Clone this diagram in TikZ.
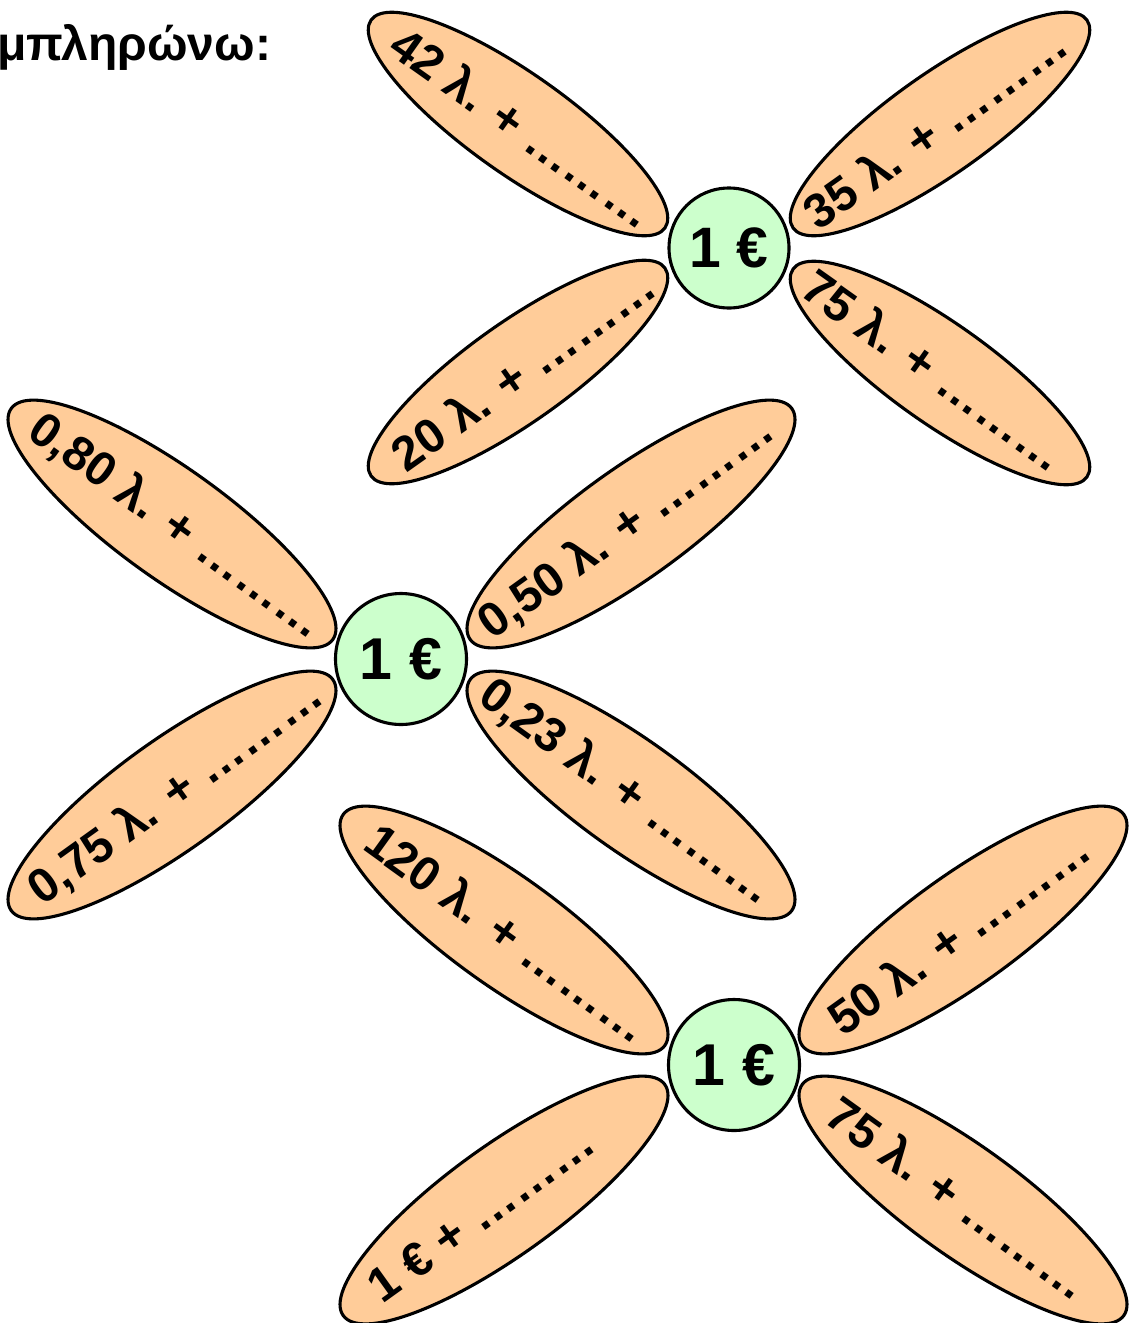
\documentclass[tikz,border=0pt]{standalone}
\usepackage{fontspec}
\setmainfont{Liberation Sans}
\usetikzlibrary{shapes.geometric,calc}
\definecolor{petalfill}{HTML}{FFCC99}
\definecolor{hubfill}{HTML}{CCFFCC}
\tikzset{
  petalA/.style={draw=black, line width=3.1pt, fill=petalfill, ellipse, inner sep=0pt, minimum width=360pt, minimum height=100pt},
  petalB/.style={draw=black, line width=3.1pt, fill=petalfill, ellipse, inner sep=0pt, minimum width=396pt, minimum height=110pt},
  hubA/.style={draw=black, line width=3.1pt, fill=hubfill, circle, inner sep=0pt, minimum size=120pt, font=\bfseries\fontsize{57}{57}\selectfont},
  hubB/.style={draw=black, line width=3.1pt, fill=hubfill, circle, inner sep=0pt, minimum size=131pt, font=\bfseries\fontsize{59}{59}\selectfont},
  ptext/.style={inner sep=0pt, font=\bfseries\fontsize{48}{48}\selectfont},
  title/.style={inner sep=0pt, anchor=base west, font=\bfseries\fontsize{48}{48}\selectfont}
}
\begin{document}
\begin{tikzpicture}[x=1pt, y=-1pt]
\useasboundingbox (0,0) rectangle (1129,1323);
\node[title] (head) at (-3,60) {μπληρώνω:};
% flower 1
\node[petalA, rotate=-35.3] (f1tl) at (518,124) {};
\node[petalA, rotate=35.3] (f1tr) at (940,124) {};
\node[petalA, rotate=35.3] (f1bl) at (518,372) {};
\node[petalA, rotate=-35.3] (f1br) at (940,373) {};
\node[hubA] (h1) at (729,248) {1 €};
\node[ptext, rotate=-35.3] (t1tl) at ($(f1tl.center)!6pt!(h1.center)$) {42 λ. + ………};
\node[ptext, rotate=35.3] (t1tr) at ($(f1tr.center)!6pt!(h1.center)$) {35 λ. + ………};
\node[ptext, rotate=35.3] (t1bl) at ($(f1bl.center)!6pt!(h1.center)$) {20 λ. + ………};
\node[ptext, rotate=-35.3] (t1br) at ($(f1br.center)!6pt!(h1.center)$) {75 λ. + ………};
% flower 2
\node[petalB, rotate=-35.7] (f2tl) at (172,524) {};
\node[petalB, rotate=35.7] (f2tr) at (631,524) {};
\node[petalB, rotate=35.7] (f2bl) at (172,795) {};
\node[petalB, rotate=-35.7] (f2br) at (631,795) {};
\node[hubB] (h2) at (401,659) {1 €};
\node[ptext, rotate=-35.7] (t2tl) at ($(f2tl.center)!5pt!(h2.center)$) {0,80 λ. + ………};
\node[ptext, rotate=35.7] (t2tr) at ($(f2tr.center)!5pt!(h2.center)$) {0,50 λ. + ………};
\node[ptext, rotate=35.7] (t2bl) at ($(f2bl.center)!5pt!(h2.center)$) {0,75 λ. + ………};
\node[ptext, rotate=-35.7] (t2br) at ($(f2br.center)!5pt!(h2.center)$) {0,23 λ. + ………};
% flower 3
\node[petalB, rotate=-35.7] (f3tl) at (504,930) {};
\node[petalB, rotate=35.7] (f3tr) at (963,930) {};
\node[petalB, rotate=35.7] (f3bl) at (504,1200) {};
\node[petalB, rotate=-35.7] (f3br) at (963,1200) {};
\node[hubB] (h3) at (734,1065) {1 €};
\node[ptext, rotate=-35.7] (t3tl) at ($(f3tl.center)!5pt!(h3.center)$) {120 λ. + ………};
\node[ptext, rotate=35.7] (t3tr) at ($(f3tr.center)!5pt!(h3.center)$) {50 λ. + ………};
\node[ptext, rotate=35.7] (t3bl) at ($(f3bl.center)!-27pt!(h3.center)$) {1 € + ………};
\node[ptext, rotate=-35.7] (t3br) at ($(f3br.center)!5pt!(h3.center)$) {75 λ. + ………};
\end{tikzpicture}
\end{document}
